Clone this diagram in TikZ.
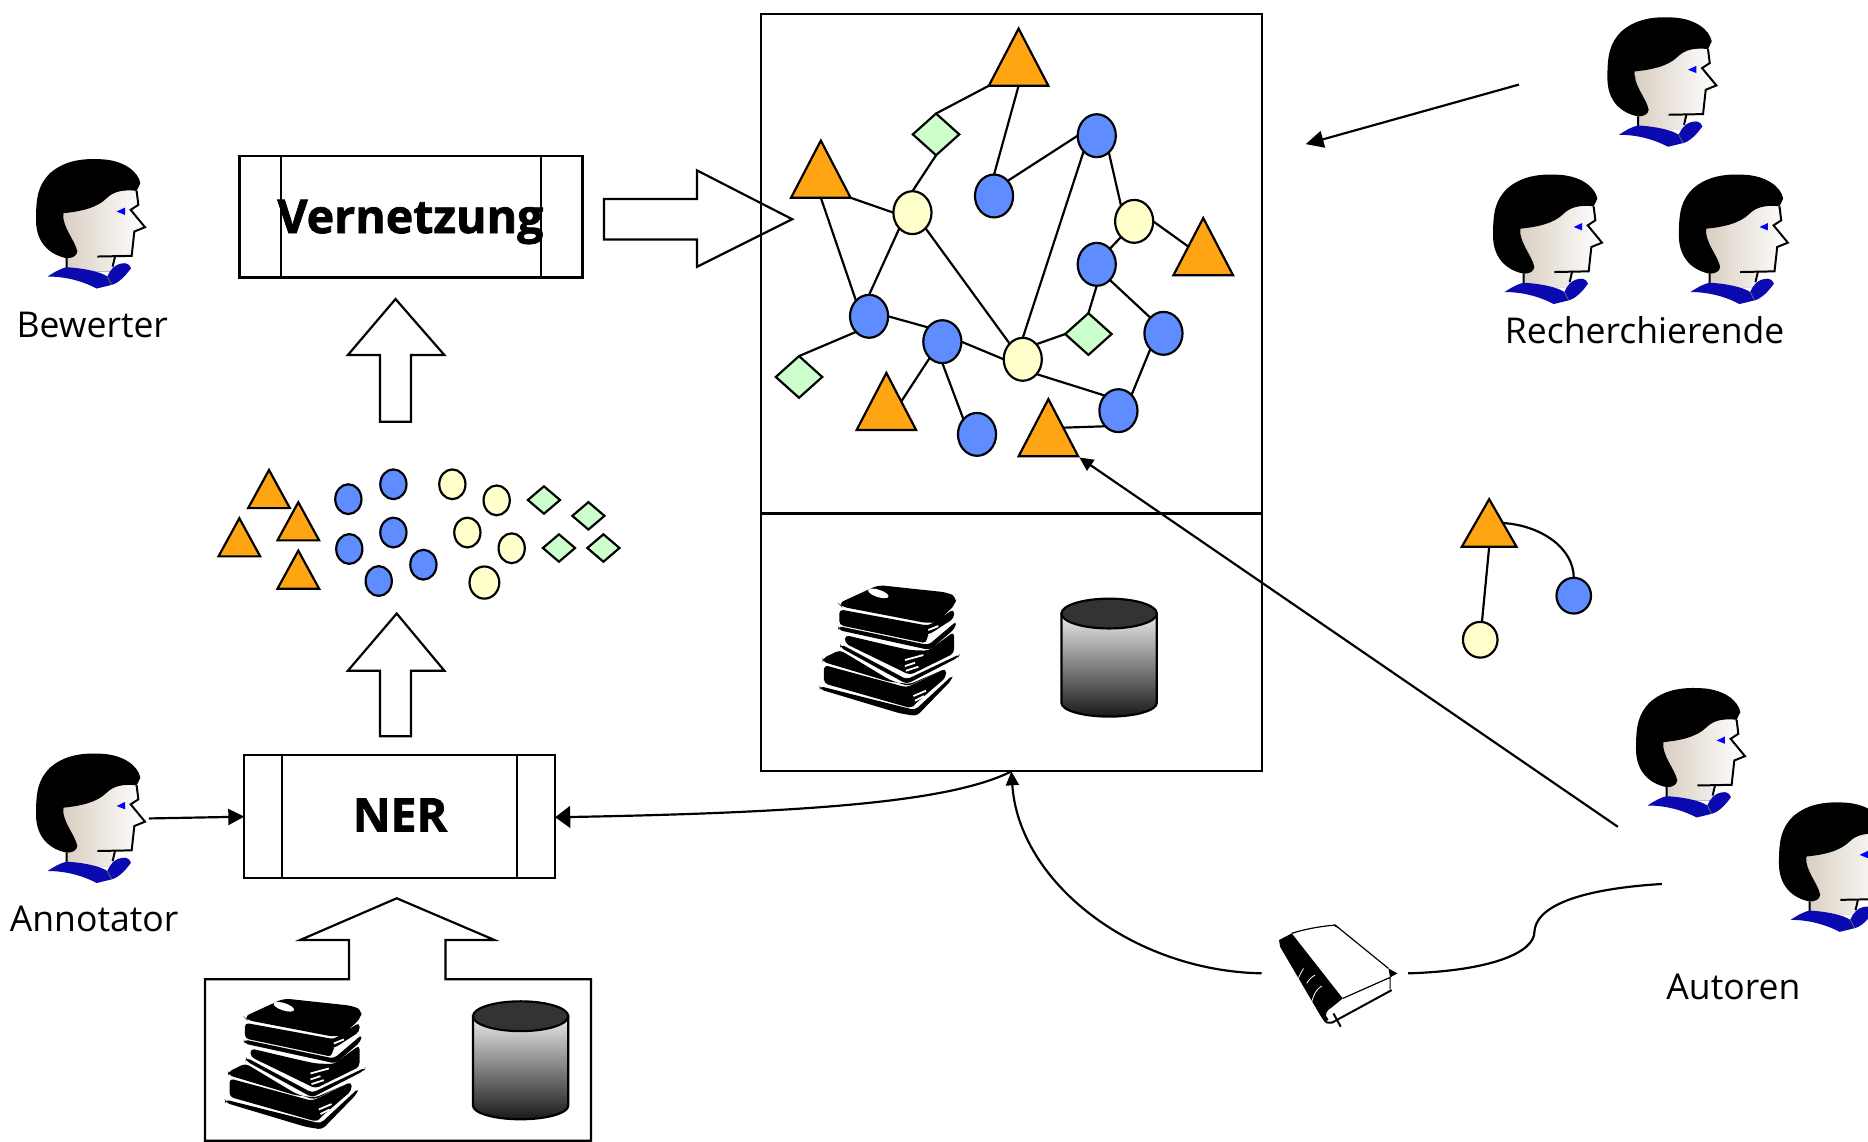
\documentclass[tikz,border=0pt]{standalone}
\usepackage{fontspec}
\setmainfont{Open Sans}[BoldFeatures={FakeBold=1.6}]
\usetikzlibrary{shapes.geometric,arrows.meta,calc}
\definecolor{orng}{HTML}{FFA514}
\definecolor{blu}{HTML}{5F8DFF}
\definecolor{yel}{HTML}{FFFFCC}
\definecolor{grn}{HTML}{CCFFCC}
\definecolor{shirt}{HTML}{0A0AB0}
\definecolor{skin}{HTML}{D9CFC2}
\tikzset{
 lw/.style={line width=1.1pt},
 trib/.style={isosceles triangle,isosceles triangle stretches,shape border rotate=90,draw,lw,fill=orng,inner sep=0pt,outer sep=0pt,anchor=apex,minimum width=50*.6pt,minimum height=48*.6pt},
 tris/.style={trib,minimum width=35*.6pt,minimum height=32*.6pt},
 blueb/.style={ellipse,draw,lw,fill=blu,inner sep=0pt,outer sep=0pt,minimum width=32*.6pt,minimum height=36*.6pt},
 yelb/.style={blueb,fill=yel},
 blues/.style={blueb,minimum width=22*.6pt,minimum height=25*.6pt},
 yels/.style={blues,fill=yel},
 diab/.style={diamond,draw,lw,fill=grn,inner sep=0pt,outer sep=0pt,minimum width=39*.6pt,minimum height=35*.6pt},
 dias/.style={diab,minimum width=27*.6pt,minimum height=23*.6pt},
 boxn/.style={draw,lw,inner sep=0pt,outer sep=0pt},
 blockar/.style={draw,lw,fill=white,line join=miter},
 conn/.style={lw},
 tip/.style={-{Triangle[length=7pt,width=6.5pt]}},
 lbl/.style={font=\fontsize{17.9}{20}\selectfont,inner sep=0pt},
 bld/.style={font=\fontsize{23.4}{26}\selectfont\bfseries,inner sep=0pt,anchor=base},
}
\newcommand{\personfig}[2]{%
\begin{scope}[shift={(#1,#2)},x=0.1679pt,y=-0.1679pt]
 \fill[left color=skin,right color=white] (190,240)--(300,190)--(405,178)--(415,225)--(392,240)--(435,292)--(403,305)--(395,378)--(345,380)--(335,425)--(200,425)--(200,385)--cycle;
 \fill[black] (200,385) .. controls (150,375) and (108,340) .. (108,270) .. controls (108,200) and (115,165) .. (150,130) .. controls (190,95) and (240,85) .. (300,88) .. controls (370,90) and (415,125) .. (421,160) -- (410,183) .. controls (370,178) and (340,185) .. (320,205) .. controls (290,235) and (240,245) .. (190,250) .. controls (185,290) and (225,330) .. (232,365) .. controls (230,380) and (215,385) .. (200,385) -- cycle;
 \draw[black,line width=1pt,line join=miter] (410,183)--(415,225)--(392,240)--(435,292)--(403,305)--(395,378)--(292,380);
 \draw[black,line width=1pt] (200,385)--(200,415) (345,380)--(338,410);
 \fill[shirt] (143,440) .. controls (165,425) and (185,415) .. (200,412) .. controls (250,415) and (300,425) .. (322,440) .. controls (330,420) and (345,400) .. (375,400) .. controls (385,402) and (392,408) .. (393,415) .. controls (375,440) and (355,460) .. (335,465) -- (290,476) .. controls (250,455) and (200,440) .. (143,440) -- cycle;
 \draw[black!60,line width=.4pt] (322,440)--(335,465);
 \fill[blue] (350,245)--(375,233)--(375,255)--cycle;
\end{scope}}
\newcommand{\booksfig}[2]{%
\begin{scope}[shift={(#1,#2)},x=0.1679pt,y=-0.1679pt]
 \fill[black,rounded corners=3pt] (115,130)--(235,75)--(440,97)--(470,110)--(465,135)--(412,185)--(385,190)--(125,140)--cycle;
 \fill[white,rotate around={-18:(235,100)}] (235,100) ellipse (32 and 11);
 \fill[black,rounded corners=2pt] (118,148)--(385,197)--(462,147)--(462,175)--(380,228)--(380,250)--(118,195)--cycle;
 \fill[black,rounded corners=2pt] (115,198)--(385,255)--(470,183)--(465,205)--(390,270)--(115,210)--cycle;
 \fill[black,rounded corners=2pt] (135,225)--(275,258)--(330,270)--(385,272)--(462,215)--(462,280)--(330,345)--(135,250)--cycle;
 \fill[black,rounded corners=2pt] (122,252)--(320,358)--(480,282)--(475,292)--(320,372)--(120,262)--cycle;
 \fill[black,rounded corners=2pt] (68,295)--(120,270)--(270,360)--(325,378)--(432,328)--(330,372)--(268,365)--(68,305)--cycle;
 \fill[black,rounded corners=2pt] (72,315)--(320,382)--(438,325)--(438,352)--(345,432)--(335,445)--(72,370)--cycle;
 \fill[black,rounded corners=2pt] (58,378)--(345,450)--(458,345)--(455,360)--(350,468)--(300,460)--(60,388)--cycle;
 \draw[white,line width=.9pt] (385,210)--(415,198) (385,225)--(405,218) (315,300)--(370,285) (315,318)--(345,308) (318,332)--(355,320) (340,408)--(378,392) (345,422)--(372,408);
\end{scope}}
\newcommand{\cylfig}[1]{%
\begin{scope}[shift={(#1)}]
 \draw[lw,top color=black!8,bottom color=black!90] (-40,0)--(-40,75) arc[x radius=40,y radius=11.5,start angle=180,end angle=0]--(40,0)--cycle;
 \draw[lw,fill=black!80] (0,0) ellipse (40 and 12.5);
\end{scope}}
\begin{document}
\begin{tikzpicture}[x=.6pt,y=-.6pt]
\fill[white] (0,0) rectangle (1568,957.8);
\useasboundingbox (0,0) rectangle (1568,957.8);
\clip (0,0) rectangle (1568,957.8);

% people
\personfig{0}{109}
\personfig{0}{608}
\personfig{1319}{-10}
\personfig{1223}{122}
\personfig{1379}{122}
\personfig{1343}{553}
\personfig{1463}{649}
\node[lbl] (lbew) at (77.5,273) {Bewerter};
\node[lbl] (lann) at (79,771) {Annotator};
\node[lbl] (lrec) at (1380.5,277) {Recherchierende};
\node[lbl] (laut) at (1455,828) {Autoren};

% process boxes
\node[boxn,minimum width=288*.6pt,minimum height=102*.6pt] (vern) at (345,182) {};
\draw[lw] (236,131)--(236,233) (454,131)--(454,233);
\node[bld] (verntxt) at (344.5,195.6) {Vernetzung};
\node[boxn,minimum width=261*.6pt,minimum height=103*.6pt] (ner) at (335.5,685.5) {};
\draw[lw] (237,634)--(237,737) (434,634)--(434,737);
\node[bld] (nertxt) at (335.8,698) {NER};

% block arrows
\draw[blockar] (507,167)--(585,167)--(585,143)--(665,184)--(585,224)--(585,201)--(507,201)--cycle;
\draw[blockar] (332,251)--(373,298)--(345,298)--(345,354)--(319,354)--(319,298)--(292,298)--cycle;
\draw[blockar] (333,515)--(373,563)--(345,563)--(345,618)--(319,618)--(319,563)--(292,563)--cycle;
\draw[blockar] (333,754)--(415,789)--(374,789)--(374,822)--(496,822)--(496,957.5)--(172,957.5)--(172,822)--(293,822)--(293,789)--(252,789)--cycle;

% main box
\node[boxn,minimum width=420*.6pt,minimum height=635*.6pt] (main) at (849,329.5) {};
\draw[lw] (639,431)--(1059,431);

% scattered shapes
\node[tris] (s1) at (225.8,394.5) {};
\node[tris] (s2) at (250.4,421.6) {};
\node[tris] (s3) at (200.9,435) {};
\node[tris] (s4) at (250.4,462.2) {};
\foreach \n/\x/\y in {b1/292.4/419,b3/330.2/447,b4/293.2/460.8,b5/355.4/474,b6/317.9/487.7,b2/330.2/406.5}
  \node[blues] (\n) at (\x,\y) {};
\foreach \n/\x/\y in {c1/379.7/406.5,c2/416.9/420,c3/392.3/447,c4/429.5/460.2}
  \node[yels] (\n) at (\x,\y) {};
\node[yels,minimum width=25*.6pt,minimum height=27*.6pt] (c5) at (406.6,489) {};
\foreach \n/\x/\y in {d1/456.6/419.7,d2/493.9/433,d3/469.2/460,d4/506.5/460}
  \node[dias] (\n) at (\x,\y) {};

% network
\node[trib] (t1) at (855,24) {};
\node[trib] (t2) at (689,118) {};
\node[trib] (t3) at (1010,183) {};
\node[trib] (t4) at (744,313) {};
\node[trib] (t5) at (880,335) {};
\node[blueb] (n1) at (920.6,113.9) {};
\node[blueb] (n2) at (834.4,164.5) {};
\node[blueb] (n3) at (920.6,221.9) {};
\node[blueb] (n4) at (976.6,279.8) {};
\node[blueb] (n5) at (729.5,265.5) {};
\node[blueb] (n6) at (791,286.8) {};
\node[blueb] (n7) at (938.8,344.7) {};
\node[blueb] (n8) at (820.1,364.6) {};
\node[yelb] (y1) at (765.9,178.5) {};
\node[yelb] (y2) at (952,185.8) {};
\node[yelb] (y3) at (858.5,301.6) {};
\node[diab] (g1) at (785.7,112.8) {};
\node[diab] (g2) at (913.6,280.4) {};
\node[diab] (g3) at (670.7,316.4) {};
\begin{scope}[conn]
\draw (g1.north)--(t1.left corner);
\draw (g1.south)--(y1.north);
\draw (t1.south)--(n2.north);
\draw (n2.48)--(n1.180);
\draw (n1.-54)--(y2.130);
\draw (n1.-130)--(y3.north);
\draw (y2.east)--($(t3.apex)!.5!(t3.left corner)$);
\draw (y2.-130)--(n3.50);
\draw (n3.-50)--(n4.130);
\draw (n3.south)--(g2.north);
\draw (g2.west)--(y3.48);
\draw (y3.-47)--(n7.132);
\draw (n4.-130)--(n7.50);
\draw (n7.-130)--($(t5.apex)!.5!(t5.right corner)$);
\draw (t2.south)--(n5.130);
\draw (t2.right corner)--(y1.west);
\draw (y1.-130)--(n5.north);
\draw (y1.-50)--(y3.130);
\draw (n5.east)--(n6.135);
\draw (n6.east)--(y3.west);
\draw (n5.-130)--(g3.north);
\draw (n6.-128)--($(t4.apex)!.5!(t4.right corner)$);
\draw (n6.south)--(n8.132);
\end{scope}

% small graph
\node[trib,minimum width=46*.6pt,minimum height=40*.6pt] (tg) at (1250,419) {};
\node[yelb,minimum width=29*.6pt,minimum height=30*.6pt] (yg) at (1242.5,537) {};
\node[blueb,minimum width=29*.6pt,minimum height=30*.6pt] (bg) at (1321,500) {};
\draw[conn] (tg.south)--(yg);
\draw[conn] ($(tg.apex)!.5!(tg.right corner)$) .. controls +(32,2) and +(0,-25) .. (bg.north);

% book stacks and cylinders
\booksfig{671.5}{470.1}
\booksfig{172.5}{817.1}
\cylfig{931,515}
\cylfig{437,853}

% single book
\begin{scope}[shift={(1057.7,755.5)},x=0.1679pt,y=-0.1679pt]
 \fill[white] (95,100)--(225,75)--(385,205)--(390,268)--(240,350)--(200,360)--cycle;
 \draw[black,line width=.6pt] (95,100) .. controls (140,85) and (190,78) .. (225,75)--(385,205);
 \draw[black,line width=.6pt] (248,295)--(390,232)--(390,268);
 \fill[black] (57,120)--(95,100)--(248,295)--(215,322) .. controls (200,330) and (190,345) .. (205,358)--(195,368)--(180,345)--(60,140)--cycle;
 \fill[black] (222,72)--(240,85)--(225,80)--cycle;
 \fill[black] (385,205)--(412,220)--(390,232)--cycle;
 \draw[black,line width=1pt] (198,367)--(215,368)--(395,270);
 \draw[black,line width=1pt] (220,340)--(242,380);
 \draw[white,line width=.4pt] (130,205) .. controls (125,215) and (118,225) .. (115,235) (165,225) .. controls (155,230) and (145,240) .. (140,250) (185,258) .. controls (170,265) and (160,285) .. (155,305);
\end{scope}

% connectors
\coordinate (aeye) at (125,687);
\draw[conn,-{Triangle[length=8pt,width=8pt]}] (aeye)--(ner.west);
\coordinate (boxb) at (849,647.5);
\coordinate (nere) at (466,686);
\draw[conn,-{Triangle[length=7.6pt,width=11pt]}] (boxb) .. controls (800,672) and (690,682) .. (nere);
\coordinate (bookl) at (1059,817);
\draw[conn,tip] (bookl) .. controls (950,815) and (855,740) .. (boxb);
\coordinate (bookr) at (1182,817);
\coordinate (autc) at (1395,742);
\draw[conn] (bookr) .. controls (1250,815) and (1288,800) .. (1288,782) .. controls (1290,755) and (1345,745) .. (autc);
\coordinate (auts) at (1358,694);
\coordinate (t5t) at (906,384);
\draw[conn,tip] (auts)--(t5t);
\coordinate (recs) at (1275,71);
\coordinate (rect) at (1096,121);
\draw[conn,-{Triangle[length=9pt,width=8.5pt]}] (recs)--(rect);
\end{tikzpicture}
\end{document}
